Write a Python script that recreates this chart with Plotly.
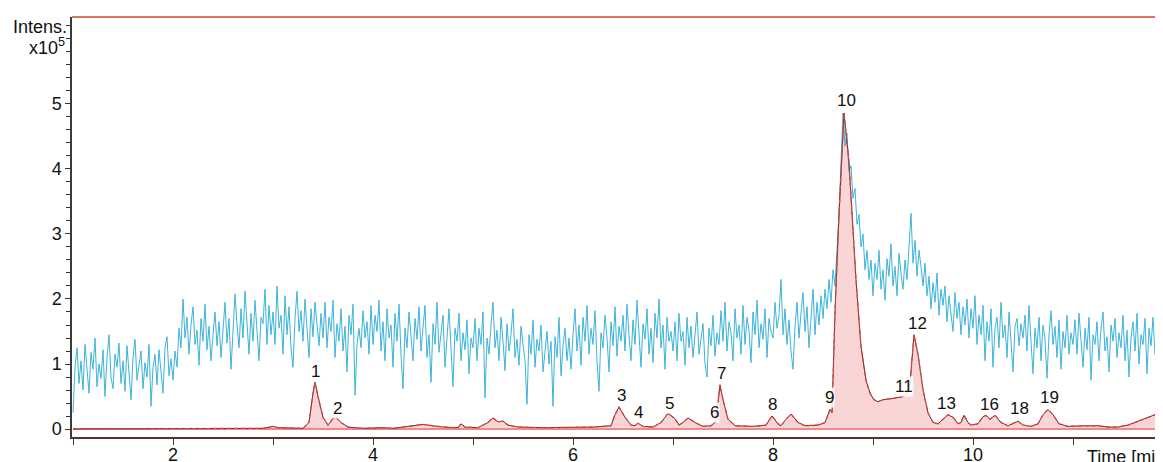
import numpy as np
import plotly.graph_objects as go

# ---------------- data ----------------
# TIC (cyan) trace, sampled every 0.02 min starting at 1.0 min (values x1e5)
tic_start = 1.0
tic_step = 0.02
tic_values = [
    0.25, 0.95, 1.25, 0.70, 1.05, 0.60, 1.30, 0.88, 0.55, 1.18, 0.92, 1.40, 0.65, 1.00, 0.78, 1.22, 0.50, 1.10, 1.45, 0.80, 0.62, 1.15, 0.95, 1.32, 0.70,
    1.05, 0.58, 1.28, 0.85, 0.45, 1.10, 1.38, 0.75, 0.98, 1.20, 0.62, 1.02, 0.80, 1.30, 0.35, 0.95, 1.15, 0.68, 1.22, 0.90, 0.55, 1.25, 1.42, 0.82, 1.08,
    0.75, 1.20, 0.95, 1.55, 1.25, 2.00, 1.40, 1.72, 1.15, 1.60, 1.88, 1.30, 1.52, 0.98, 1.70, 1.35, 1.92, 1.22, 1.58, 1.05, 1.45, 1.80, 1.28, 1.65, 1.10,
    1.50, 1.95, 1.32, 1.70, 0.92, 1.45, 2.08, 1.60, 1.25, 1.85, 1.40, 2.12, 1.55, 1.15, 1.78, 1.35, 1.98, 1.48, 1.05, 1.72, 1.62, 2.15, 1.30, 1.90, 1.45,
    1.80, 1.30, 2.20, 1.55, 1.75, 1.15, 2.05, 1.45, 1.88, 1.25, 0.95, 1.70, 2.12, 1.50, 1.82, 1.35, 2.00, 1.60, 1.10, 1.85, 1.42, 1.95, 1.55, 1.28, 1.78,
    1.40, 1.95, 1.25, 1.72, 1.50, 1.98, 1.10, 1.62, 1.35, 1.85, 1.20, 1.58, 0.88, 1.75, 1.45, 1.92, 0.52, 1.30, 1.55, 1.25, 1.82, 1.40, 1.65, 1.15, 1.90,
    1.30, 1.75, 1.50, 1.98, 1.20, 1.65, 1.05, 1.85, 1.40, 1.60, 0.95, 1.78, 1.35, 1.92, 1.15, 0.62, 1.55, 1.25, 1.80, 1.45, 1.05, 1.70, 1.38, 1.88, 1.20,
    1.55, 1.90, 1.10, 1.45, 0.72, 1.62, 1.30, 1.95, 1.18, 1.50, 1.75, 0.95, 1.40, 1.85, 1.25, 0.65, 1.55, 1.35, 1.78, 1.05, 1.48, 1.22, 1.68, 0.85, 1.40,
    1.25, 1.70, 1.05, 1.55, 1.30, 1.80, 0.48, 1.40, 1.15, 1.60, 1.95, 1.25, 1.52, 1.05, 1.72, 1.35, 0.90, 1.62, 1.20, 1.45, 1.85, 1.10, 1.38, 0.98, 1.58,
    1.30, 1.05, 0.38, 1.45, 1.15, 1.68, 0.95, 1.38, 1.20, 1.60, 0.88, 1.25, 1.50, 1.00, 1.35, 0.35, 1.42, 1.10, 1.72, 0.82, 1.28, 1.55, 1.05, 1.40, 0.92,
    1.45, 1.85, 1.20, 1.60, 0.98, 1.72, 1.35, 1.90, 1.15, 1.55, 1.30, 1.82, 1.05, 0.58, 1.48, 1.25, 1.75, 1.40, 0.88, 1.65, 1.28, 1.88, 1.12, 1.58, 1.35,
    1.75, 1.20, 1.92, 1.45, 1.05, 1.68, 1.30, 1.98, 1.50, 0.95, 1.62, 1.38, 1.85, 1.15, 1.55, 1.02, 1.78, 1.40, 2.00, 1.25, 1.60, 0.92, 1.72, 1.35, 1.50,
    1.20, 1.65, 1.05, 1.78, 1.35, 1.50, 0.98, 1.72, 1.25, 1.58, 1.10, 1.45, 1.80, 1.15, 1.38, 1.62, 1.00, 0.80, 1.55, 1.28, 1.75, 1.12, 1.48, 1.30, 1.82,
    1.35, 1.95, 1.20, 1.65, 1.48, 1.05, 1.85, 1.40, 1.60, 1.15, 1.90, 1.30, 1.72, 1.52, 1.02, 1.80, 1.45, 1.98, 1.25, 1.62, 1.38, 1.85, 1.10, 1.70, 1.50,
    1.40, 1.95, 1.55, 1.75, 2.30, 1.45, 1.85, 1.30, 1.68, 1.20, 0.92, 1.58, 1.95, 1.40, 1.78, 2.10, 1.50, 1.88, 1.25, 1.65, 2.15, 1.45, 1.95, 1.60, 2.05,
    1.70, 2.15, 1.85, 2.30, 1.95, 2.45, 2.20, 2.70, 3.30, 4.10, 4.86, 4.35, 4.55, 3.95, 4.05, 3.55, 3.70, 3.15, 3.30, 2.80, 3.00, 2.45, 2.75, 2.30, 2.60,
    2.05, 2.55, 2.30, 2.75, 2.15, 2.45, 1.98, 2.62, 2.35, 2.85, 2.20, 2.50, 2.05, 2.70, 2.40, 2.15, 2.60, 2.30, 2.80, 3.32, 2.55, 2.90, 2.35, 2.75, 2.50,
    2.20, 2.55, 2.05, 2.35, 1.85, 2.25, 1.95, 2.40, 1.75, 2.15, 1.90, 2.20, 1.65, 2.05, 1.80, 1.50, 2.10, 1.70, 1.95, 1.45, 1.88, 1.60, 2.00, 1.40, 1.85,
    1.55, 2.05, 1.30, 1.75, 1.45, 1.90, 1.05, 1.65, 1.35, 1.85, 0.95, 1.55, 1.72, 1.25, 1.95, 1.40, 1.60, 1.10, 1.80, 1.35, 0.88, 1.58, 1.70, 1.28, 1.62,
    1.40, 1.75, 1.20, 1.90, 1.35, 0.85, 1.55, 1.25, 1.72, 1.05, 1.60, 1.38, 0.78, 1.45, 1.82, 1.30, 1.58, 1.10, 1.68, 0.92, 1.50, 1.25, 1.75, 1.15, 1.48,
    1.30, 1.68, 1.15, 1.78, 1.40, 0.95, 1.55, 1.22, 1.72, 0.75, 1.45, 1.30, 1.65, 1.05, 1.55, 1.80, 1.20, 1.42, 0.88, 1.60, 1.35, 1.70, 1.10, 1.48, 1.25,
    1.75, 1.05, 1.52, 0.80, 1.40, 1.65, 1.20, 1.78, 1.00, 1.45, 1.30, 1.70, 0.85, 1.55, 1.28, 1.72, 1.15, 1.45, 1.05, 1.60, 1.20,
]

# EIC (red) trace: time [min], intensity (x1e5)
eic_time = [
    1.00, 2.60, 2.70, 2.90, 3.00, 3.05, 3.30, 3.36, 3.40, 3.42, 3.45, 3.50, 3.55, 3.60, 3.63, 3.68, 3.75, 3.90,
    4.10, 4.20, 4.35, 4.50, 4.60, 4.70, 4.85, 4.88, 4.92, 5.05, 5.15, 5.20, 5.25, 5.30, 5.35, 5.45, 5.70, 5.95,
    6.20, 6.38, 6.42, 6.46, 6.52, 6.58, 6.62, 6.65, 6.70, 6.80, 6.88, 6.95, 7.02, 7.06, 7.10, 7.15, 7.22, 7.30,
    7.38, 7.42, 7.45, 7.47, 7.50, 7.55, 7.62, 7.80, 7.93, 7.99, 8.05, 8.08, 8.13, 8.18, 8.25, 8.32, 8.45, 8.52,
    8.57, 8.59, 8.62, 8.66, 8.71, 8.76, 8.80, 8.83, 8.88, 8.93, 8.97, 9.01, 9.05, 9.10, 9.20, 9.30, 9.34, 9.37, 9.41,
    9.45, 9.50, 9.55, 9.60, 9.65, 9.70, 9.75, 9.80, 9.85, 9.88, 9.91, 9.95, 9.98, 10.05, 10.10, 10.13, 10.17,
    10.22, 10.28, 10.35, 10.42, 10.45, 10.50, 10.58, 10.65, 10.70, 10.75, 10.80, 10.86, 10.95, 11.10, 11.25,
    11.35, 11.45, 11.55, 11.65, 11.75, 11.82, 11.90,
]
eic_intens = [
    0.00, 0.00, 0.01, 0.01, 0.04, 0.02, 0.01, 0.10, 0.55, 0.72, 0.50, 0.18, 0.06, 0.16, 0.18, 0.10, 0.03, 0.01,
    0.02, 0.01, 0.04, 0.07, 0.05, 0.03, 0.02, 0.08, 0.03, 0.02, 0.10, 0.17, 0.11, 0.12, 0.06, 0.03, 0.02, 0.02,
    0.03, 0.05, 0.22, 0.34, 0.18, 0.06, 0.05, 0.09, 0.04, 0.03, 0.10, 0.24, 0.16, 0.06, 0.10, 0.17, 0.10, 0.04,
    0.05, 0.10, 0.40, 0.68, 0.45, 0.15, 0.05, 0.04, 0.06, 0.20, 0.08, 0.05, 0.15, 0.23, 0.10, 0.05, 0.06, 0.10,
    0.30, 0.25, 1.80, 3.30, 4.86, 4.10, 3.06, 2.30, 1.27, 0.75, 0.55, 0.45, 0.42, 0.45, 0.47, 0.50, 0.56, 0.70, 1.45,
    1.15, 0.60, 0.25, 0.10, 0.08, 0.15, 0.22, 0.18, 0.08, 0.10, 0.21, 0.10, 0.06, 0.08, 0.19, 0.21, 0.15,
    0.21, 0.10, 0.05, 0.10, 0.12, 0.06, 0.04, 0.08, 0.22, 0.30, 0.22, 0.08, 0.04, 0.05, 0.05,
    0.03, 0.03, 0.06, 0.12, 0.18, 0.22, 0.29,
]

# Peak labels: text, time, label height (x1e5)
peak_labels = ["1", "2", "3", "4", "5", "6", "7", "8", "9", "10", "11", "12", "13", "16", "18", "19"]
peak_label_time = [3.42, 3.64, 6.48, 6.65, 6.96, 7.41, 7.48, 7.99, 8.56, 8.73, 9.31, 9.44, 9.73, 10.16, 10.46, 10.76]
peak_label_y = [0.89, 0.32, 0.51, 0.25, 0.40, 0.25, 0.86, 0.38, 0.48, 5.06, 0.66, 1.63, 0.40, 0.38, 0.31, 0.49]

x_tickvals = [2, 4, 6, 8, 10]
y_tickvals = [0, 1, 2, 3, 4, 5]

# ---------------- figure ----------------
tic_time = tic_start + tic_step * np.arange(len(tic_values))
FONT = "Liberation Sans, Arial, sans-serif"

fig = go.Figure()

# pink fill under EIC
fig.add_trace(go.Scatter(
    x=eic_time, y=eic_intens, mode="lines", fill="tozeroy",
    fillcolor="rgba(240,150,150,0.40)", line=dict(width=0, color="rgba(0,0,0,0)"),
    hoverinfo="skip", showlegend=False))

# cyan TIC
fig.add_trace(go.Scatter(
    x=tic_time, y=tic_values, mode="lines",
    line=dict(color="#3db3da", width=1), showlegend=False))

# pink baseline
fig.add_trace(go.Scatter(
    x=[eic_time[0], eic_time[-1]], y=[0, 0], mode="lines",
    line=dict(color="#f08a8a", width=2), showlegend=False, hoverinfo="skip"))

# EIC outline: dark line with red dashes
fig.add_trace(go.Scatter(
    x=eic_time, y=eic_intens, mode="lines",
    line=dict(color="#5a3030", width=1), showlegend=False))
fig.add_trace(go.Scatter(
    x=eic_time, y=eic_intens, mode="lines",
    line=dict(color="#e8403a", width=1.3, dash="4px,3px"), showlegend=False))

for txt, tx, ty in zip(peak_labels, peak_label_time, peak_label_y):
    fig.add_annotation(x=tx, y=ty, text=txt, showarrow=False, xref="x", yref="y",
                       font=dict(family=FONT, size=17, color="#111"),
                       bgcolor="rgba(255,255,255,0.85)", borderpad=0)

# axis titles
fig.add_annotation(xref="paper", yref="paper", x=0, y=1, xanchor="right", yanchor="middle",
                   xshift=-3, yshift=-10, text="Intens.", showarrow=False,
                   font=dict(family=FONT, size=18, color="#111"))
fig.add_annotation(xref="paper", yref="paper", x=0, y=1, xanchor="right", yanchor="middle",
                   xshift=-5, yshift=-29, text="x10<sup>5</sup>", showarrow=False,
                   font=dict(family=FONT, size=18, color="#111"))
fig.add_annotation(xref="x", yref="paper", x=11.12, y=0, xanchor="left", yanchor="top",
                   yshift=-8, text="Time [min]", showarrow=False,
                   font=dict(family=FONT, size=18, color="#111"))

# top border
fig.add_shape(type="line", xref="paper", yref="paper", x0=0, x1=1, y0=1, y1=1,
              line=dict(color="#c84a30", width=1.5))

fig.update_xaxes(
    range=[0.99, 11.90], tickvals=x_tickvals, ticks="outside", ticklen=6, tickwidth=1,
    tickcolor="#333", showline=True, linecolor="#5a3328", linewidth=1.5,
    showgrid=False, zeroline=False, automargin=False, ticklabelstandoff=-5,
    tickfont=dict(family=FONT, size=18, color="#111"),
    minor=dict(dtick=1, tick0=1, ticks="outside", ticklen=6, tickcolor="#333", showgrid=False))
fig.update_yaxes(
    range=[-0.123, 6.338], tickvals=y_tickvals, ticks="outside", ticklen=5, tickwidth=1,
    tickcolor="#333", showline=True, linecolor="#3a3a3a", linewidth=1.5,
    showgrid=False, zeroline=False, automargin=False,
    tickfont=dict(family=FONT, size=18, color="#111"),
    minor=dict(dtick=0.2, tick0=0, ticks="outside", ticklen=4, tickcolor="#333", showgrid=False))

# the page body adds an 8px margin; size the figure so the axes land where the reference has them
fig.update_layout(
    width=1155, height=454,
    margin=dict(l=64, r=0, t=9, b=25),
    plot_bgcolor="white", paper_bgcolor="white",
    showlegend=False,
)

fig.write_html("out.html")
